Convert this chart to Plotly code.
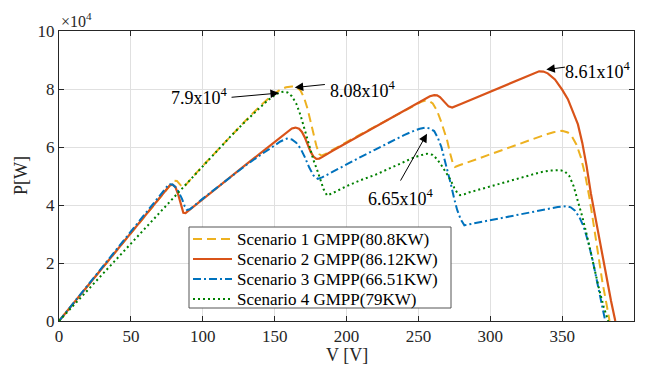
import plotly.graph_objects as go

# ---------------- data ----------------
s1_v = [0, 20, 40, 60, 70, 75, 78, 80, 82, 84, 86, 88, 90, 100, 110, 120, 130, 140, 148, 154, 158, 162, 165, 168,
        170.5, 173, 175, 177, 179, 181, 182.5, 185, 190, 200, 210, 220, 230, 240, 247, 252, 255, 258, 260, 263, 266,
        268, 270, 272, 274, 275.5, 278, 290, 300, 310, 320, 330, 338, 344, 350, 354, 357, 360, 363, 366, 369, 372,
        375, 378, 381, 383]
s1_p = [0, 12200, 24400, 36600, 42700, 45600, 47500, 48400, 48300, 47300, 46000, 46800, 48000, 53500, 58800, 64000,
        69200, 74200, 77800, 79800, 80600, 80900, 80700, 79500, 77000, 73000, 69000, 64800, 60500, 57600, 57000,
        57500, 59000, 61700, 64400, 67100, 69900, 72600, 74500, 75600, 76000, 75700, 75000, 72500, 68500, 65500,
        62300, 58000, 54300, 53100, 53600, 55700, 57500, 59300, 61100, 62800, 64200, 65100, 65600, 65000, 63500,
        60800, 56500, 50500, 42500, 33000, 22500, 13500, 5500, 0]

s2_v = [0, 20, 40, 60, 70, 74, 77, 79, 81, 83, 85, 86.5, 88, 90, 100, 110, 120, 130, 140, 150, 155, 159, 162, 164.5,
        167, 169, 171, 173, 175, 177, 179, 181, 183, 190, 200, 210, 220, 230, 240, 250, 255, 258, 261, 263, 265, 267,
        269, 271, 273.5, 276, 280, 290, 300, 310, 320, 326, 330, 334, 337, 340, 345, 350, 354, 358, 361, 364, 367,
        370, 375, 380, 384, 387]
s2_p = [0, 12200, 24400, 36600, 42500, 45100, 46700, 47000, 46200, 43500, 39500, 37300, 37200, 38000, 42200, 46100,
        50000, 53900, 57800, 61700, 63700, 65400, 66400, 66700, 66300, 65200, 63300, 60800, 58400, 56700, 55900,
        56000, 56500, 58600, 61400, 64200, 67000, 69900, 72700, 75500, 76800, 77500, 77900, 77800, 77200, 76200,
        75000, 74000, 73600, 74000, 74900, 77000, 79100, 81100, 83100, 84400, 85400, 86100, 86000, 85400, 83300,
        79800, 76500, 71500, 67800, 61500, 53500, 44000, 30300, 16700, 7000, 0]

s3_v = [0, 20, 40, 60, 70, 74, 76.5, 79, 82, 85.5, 87.5, 89, 91, 100, 110, 120, 130, 140, 148, 154, 158.5, 162, 165,
        168, 171, 174, 177, 180, 183, 190, 200, 210, 220, 230, 240, 246, 251, 255, 258, 261, 263.5, 266, 268, 270,
        272.5, 275, 277, 279.5, 282, 285, 290, 300, 310, 320, 330, 340, 347, 352.5, 356, 359, 362, 365, 368, 371,
        374, 377, 380]
s3_p = [0, 12300, 24600, 36900, 43000, 45800, 47200, 47100, 45700, 42200, 39500, 38300, 38500, 42200, 46100, 50000,
        53700, 57200, 60000, 61900, 62900, 62600, 61500, 59500, 56500, 53000, 50200, 49000, 49500, 51400, 54000,
        56600, 59100, 61700, 64100, 65400, 66300, 66700, 66400, 65500, 63200, 60000, 56300, 52500, 47400, 42000,
        38300, 35000, 33000, 33300, 33800, 34800, 35800, 36800, 37700, 38600, 39300, 39600, 39200, 38000, 35800,
        32500, 27500, 21500, 14500, 7500, 0]

s4_v = [0, 20, 40, 60, 80, 100, 120, 130, 140, 145, 150, 154, 156.5, 159, 162, 165, 168, 171, 174, 177, 180, 182,
        184, 186.5, 190, 200, 210, 220, 230, 240, 247, 252, 256, 260, 263, 266, 269, 272, 275, 277, 279, 282, 285,
        295, 305, 315, 325, 335, 342, 349, 352, 355, 358, 361, 364, 367, 370, 373, 376, 379, 382]
s4_p = [0, 10700, 21400, 32100, 42800, 53500, 64000, 69000, 73800, 76000, 77900, 78900, 79100, 78800, 77500, 75000,
        71000, 66000, 60500, 55500, 51500, 48500, 45500, 43300, 44000, 46500, 48600, 50400, 52600, 54900, 56400,
        57200, 57700, 57300, 55800, 53700, 51300, 49000, 45900, 44200, 43400, 43700, 44300, 45700, 47100, 48500,
        49900, 51300, 51900, 52000, 51500, 50000, 46500, 41500, 36000, 30000, 23200, 16700, 10400, 4800, 0]

names = ["Scenario 1 GMPP(80.8KW)", "Scenario 2 GMPP(86.12KW)",
         "Scenario 3 GMPP(66.51KW)", "Scenario 4 GMPP(79KW)"]

x_ticks = [0, 50, 100, 150, 200, 250, 300, 350, 400]
y_ticks = [0, 20000, 40000, 60000, 80000, 100000]
y_tick_text = ["0", "2", "4", "6", "8", "10"]

# peak labels: (text, text_v, text_p, tail_v, tail_p, head_v, head_p)
peaks = [
    ("7.9x10<sup>4</sup>", 98, 77300, 119, 77100, 153, 78600),
    ("8.08x10<sup>4</sup>", 211.5, 80000, 186, 81600, 164, 80500),
    ("8.61x10<sup>4</sup>", 375, 86300, 353, 87600, 339, 86700),
    ("6.65x10<sup>4</sup>", 238, 42500, 237, 47900, 256, 64600),
]

# ---------------- figure ----------------
FONT = "Liberation Serif, Times New Roman, serif"
styles = [
    dict(color="#EDB120", width=2, dash="9px,5px"),
    dict(color="#D95319", width=2.2, dash="solid"),
    dict(color="#0072BD", width=2, dash="8px,3px,2px,3px"),
    dict(color="#008000", width=2, dash="2px,3px"),
]

# page geometry (page has an 8px body margin)
PX0, PX1, PY0, PY1 = 59, 634, 31, 321


def px(xp):
    return (xp - PX0) / (PX1 - PX0)


def py(yp):
    return (PY1 - yp) / (PY1 - PY0)


fig = go.Figure()
for v, p, nm, st in zip([s1_v, s2_v, s3_v, s4_v], [s1_p, s2_p, s3_p, s4_p], names, styles):
    fig.add_trace(go.Scatter(x=v, y=p, mode="lines", name=nm, line=st, showlegend=False))

for txt, tv, tp, av, ap, hv, hp in peaks:
    fig.add_annotation(x=hv, y=hp, ax=av, ay=ap, xref="x", yref="y", axref="x", ayref="y",
                       text="", showarrow=True, arrowhead=2, arrowsize=1.7, arrowwidth=1,
                       arrowcolor="black", standoff=0)
    fig.add_annotation(x=tv, y=tp, xref="x", yref="y", text=txt, showarrow=False,
                       font=dict(family=FONT, size=18, color="black"), xanchor="center", yanchor="middle")

# legend drawn as a box with line samples and labels
fig.add_shape(type="rect", xref="paper", yref="paper", x0=px(189), x1=px(451), y0=py(308), y1=py(227),
              fillcolor="white", line=dict(color="#555555", width=1), layer="above")
row_y = [239, 259, 279, 299]
for nm, st, ry in zip(names, styles, row_y):
    fig.add_shape(type="line", xref="paper", yref="paper", x0=px(193), x1=px(232), y0=py(ry), y1=py(ry),
                  line=st, layer="above")
    fig.add_annotation(x=px(235), y=py(ry), xref="paper", yref="paper", text=nm, showarrow=False,
                       xanchor="left", yanchor="middle", font=dict(family=FONT, size=17, color="black"))

fig.add_annotation(x=px(59), y=py(8.5), xref="paper", yref="paper", text="\u00d710<sup>4</sup>", showarrow=False,
                   xanchor="left", yanchor="top", font=dict(family=FONT, size=16, color="#262626"))
fig.add_annotation(x=0.5, y=py(355), xref="paper", yref="paper", text="V [V]", showarrow=False,
                   xanchor="center", yanchor="middle", font=dict(family=FONT, size=18, color="#262626"))
fig.add_annotation(x=px(21), y=0.5, xref="paper", yref="paper", text="P[W]", showarrow=False,
                   textangle=-90, xanchor="center", yanchor="middle",
                   font=dict(family=FONT, size=18, color="#262626"))

axis_common = dict(showline=True, linecolor="#262626", linewidth=1, mirror="ticks", ticks="inside",
                   ticklen=5, tickcolor="#262626", showgrid=True, gridcolor="#e0e0e0", gridwidth=1,
                   zeroline=False, tickfont=dict(family=FONT, size=17, color="#262626"))

fig.update_xaxes(range=[0, 400], tickvals=x_ticks, **axis_common)
fig.update_yaxes(range=[0, 100000], tickvals=y_ticks, ticktext=y_tick_text, **axis_common)

fig.update_layout(
    width=631, height=361,
    margin=dict(l=PX0 - 8, r=639 - PX1, t=PY0 - 8, b=369 - PY1),
    paper_bgcolor="white", plot_bgcolor="white",
    showlegend=False,
)

fig.write_html("out.html")
